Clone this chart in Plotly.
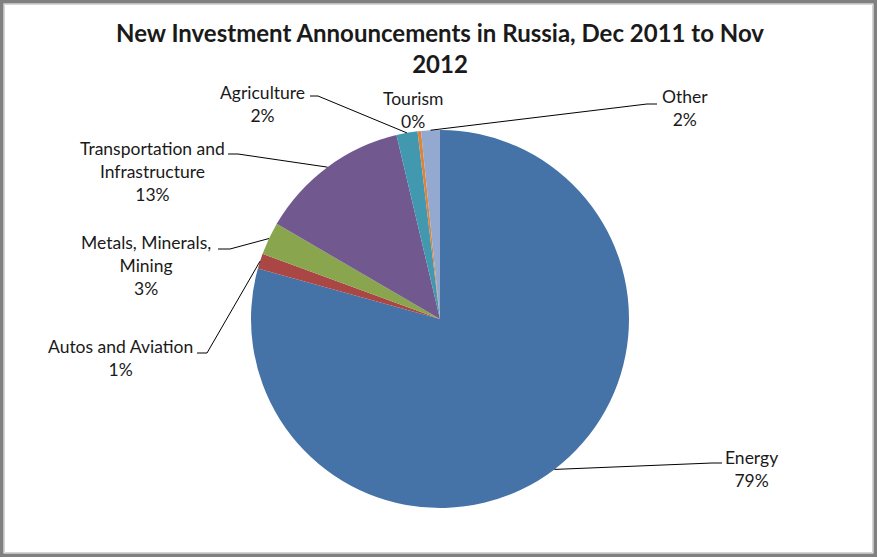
import numpy as np
import plotly.graph_objects as go

# ---- data -------------------------------------------------------------
sectors = [
    "Energy",
    "Autos and Aviation",
    "Metals, Minerals, Mining",
    "Transportation and Infrastructure",
    "Agriculture",
    "Tourism",
    "Other",
]
shares = [79.3, 1.3, 2.8, 12.9, 1.8, 0.3, 1.6]
colors = ["#4572A7", "#AA4643", "#89A54E", "#71588F", "#4198AF", "#DB843D", "#93A9CF"]

# label text as broken over lines
label_lines = [
    ["Energy"],
    ["Autos and Aviation"],
    ["Metals, Minerals,", "Mining"],
    ["Transportation and", "Infrastructure"],
    ["Agriculture"],
    ["Tourism"],
    ["Other"],
]

# ---- layout geometry (pixels) -----------------------------------------
W, H = 877, 557
CX, CY, R = 440, 319, 189          # pie centre and radius

# centre of each label block
label_pos = [
    (751, 469),
    (120, 358),
    (146, 265),
    (152, 171),
    (262, 104),
    (413, 110),
    (685, 108),
]
# leader line: start x at text edge, elbow x, y of the horizontal stub
leader = [
    (722, 712, 463),
    (197, 207, 353),
    (218, 230, 249),
    (228, 238, 154),
    (310, 318, 96),
    None,
    (657, 647, 104),
]

FONT = "Lato"
TEXT = "#1a1a1a"


def px(x, y):
    return x / W, 1 - y / H


vals = np.array(shares, dtype=float)
total = vals.sum()
pct = vals / total * 100
start = np.concatenate([[0], np.cumsum(vals)[:-1]])
mid_deg = (start + vals / 2) / total * 360.0   # clockwise from 12 o'clock

fig = go.Figure(
    go.Pie(
        labels=sectors,
        values=shares,
        sort=False,
        direction="clockwise",
        rotation=0,
        marker=dict(colors=colors, line=dict(width=0)),
        textinfo="none",
        hoverinfo="label+percent",
        showlegend=False,
        domain=dict(
            x=[(CX - R) / W, (CX + R) / W],
            y=[1 - (CY + R) / H, 1 - (CY - R) / H],
        ),
    )
)

annotations = []
shapes = []
for i, name in enumerate(sectors):
    lines = label_lines[i] + [f"{pct[i]:.0f}%"]
    lx, ly = px(*label_pos[i])
    annotations.append(
        dict(
            x=lx, y=ly, xref="paper", yref="paper",
            text="<br>".join(lines),
            showarrow=False, align="center",
            xanchor="center", yanchor="middle",
            font=dict(family=FONT, size=17.5, color=TEXT),
        )
    )
    if leader[i] is not None:
        sx, ex, sy = leader[i]
        a = np.deg2rad(mid_deg[i])
        tx = CX + R * np.sin(a)
        ty = CY - R * np.cos(a)
        p0, p1, p2 = px(sx, sy), px(ex, sy), px(tx, ty)
        shapes.append(
            dict(
                type="path", xref="paper", yref="paper",
                path=f"M {p0[0]},{p0[1]} L {p1[0]},{p1[1]} L {p2[0]},{p2[1]}",
                line=dict(color="#000000", width=1),
            )
        )

# chart frame
shapes.append(dict(type="rect", xref="paper", yref="paper", x0=0, y0=0, x1=1, y1=1,
                   line=dict(color="#808080", width=7)))
shapes.append(dict(type="rect", xref="paper", yref="paper",
                   x0=4.5 / W, y0=4.5 / H, x1=1 - 4.5 / W, y1=1 - 4.5 / H,
                   line=dict(color="#d4d4d4", width=1)))

fig.update_layout(
    width=W, height=H,
    margin=dict(l=0, r=0, t=0, b=0),
    paper_bgcolor="white",
    plot_bgcolor="white",
    title=dict(
        text="<b>New Investment Announcements in Russia, Dec 2011 to Nov<br>2012</b>",
        x=440 / W, xanchor="center", xref="paper",
        y=1 - 42 / H, yanchor="middle", yref="container",
        font=dict(family=FONT, size=24, color=TEXT),
    ),
    annotations=annotations,
    shapes=shapes,
)

fig.write_html("out.html")
